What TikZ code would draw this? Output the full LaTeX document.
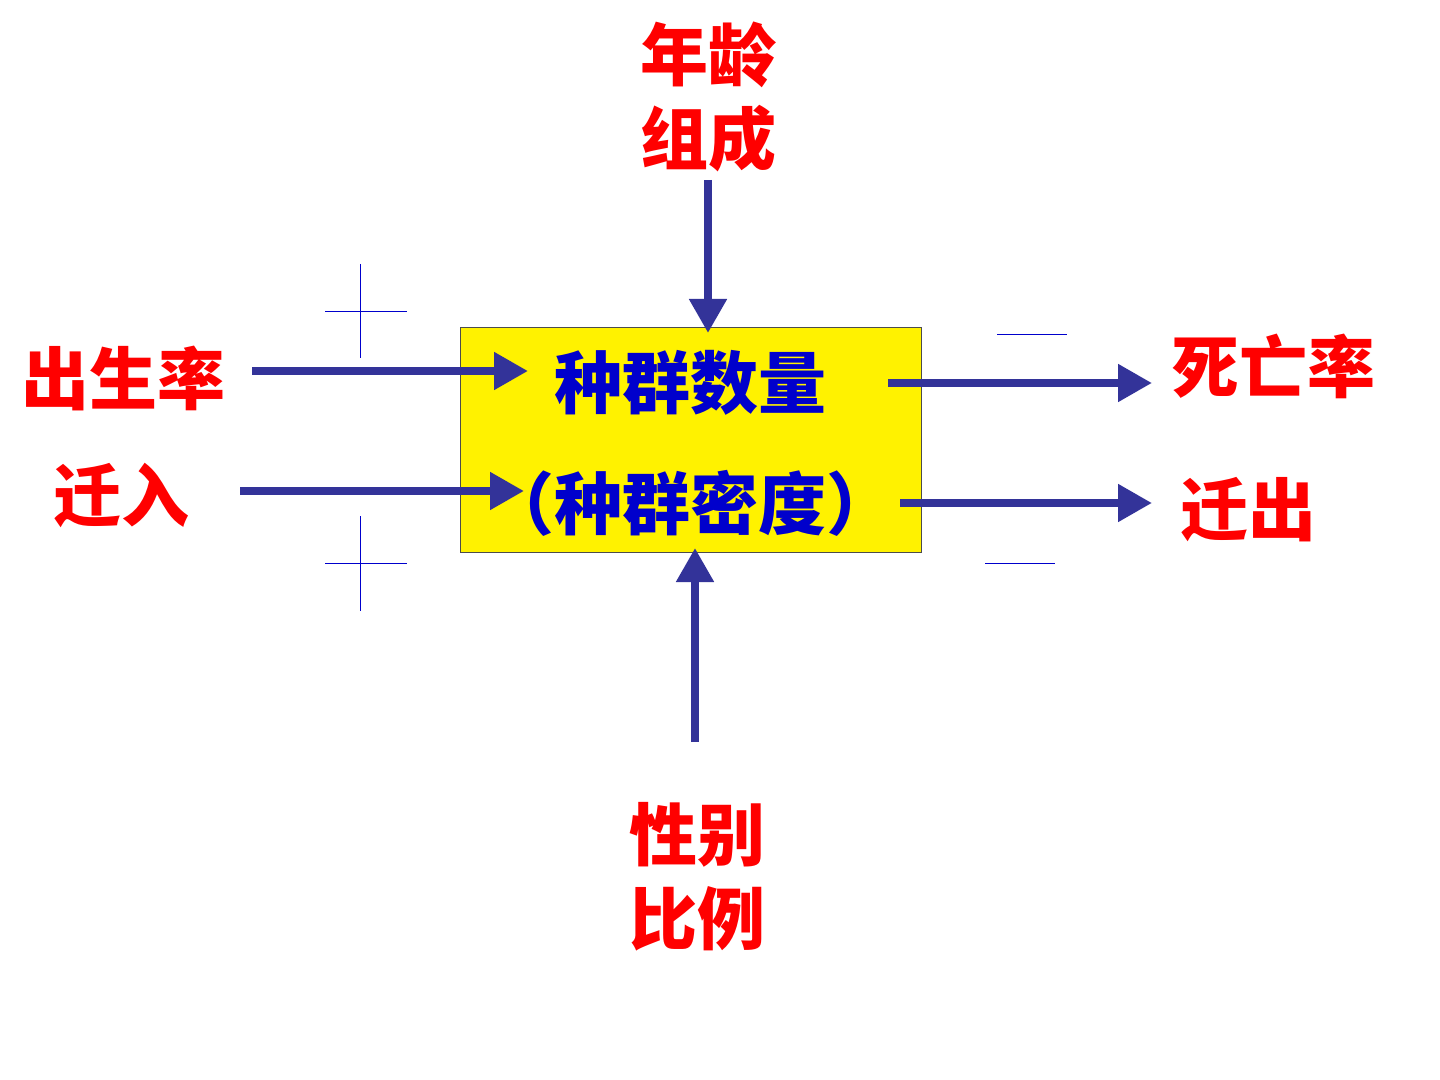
\documentclass[tikz,border=0pt]{standalone}
\usepackage{fontspec}
\setmainfont{Noto Sans CJK SC}
\usetikzlibrary{arrows.meta}
\definecolor{arr}{RGB}{51,51,153}
\definecolor{lbl}{RGB}{255,0,0}
\definecolor{txt}{RGB}{0,0,204}
\begin{document}
\begin{tikzpicture}[x=0.5pt,y=-0.5pt,
  lab/.style={text=lbl,font=\fontsize{34}{42}\selectfont\bfseries,align=center,inner sep=0},
  big/.style={line width=4pt,draw=arr,-{Triangle[length=17pt,width=18pt]}},
  thin/.style={draw=txt,line width=0.5pt}]
\useasboundingbox (0,0) rectangle (1440,1080);
\node[draw=black!70,fill=yellow,minimum width=230.5pt,minimum height=112pt,inner sep=0,line width=0.5pt] (box) at (690.5,440) {};
\node[text=txt,font=\fontsize{34}{40}\selectfont\bfseries,inner sep=0] (t1) at (690,383) {种群数量};
\node[text=txt,font=\fontsize{34}{40}\selectfont\bfseries,inner sep=0] (t2) at (690,503) {（种群密度）};
\node[lab] (age) at (708,97) {年龄\\组成};
\node[lab] (birth) at (123,378) {出生率};
\node[lab] (in) at (122,495) {迁入};
\node[lab] (death) at (1273,366) {死亡率};
\node[lab] (out) at (1248,510) {迁出};
\node[lab] (sex) at (697,877) {性别\\比例};
\coordinate (a1) at (708,180); \coordinate (a2) at (708,333);
\coordinate (b1) at (252,371); \coordinate (b2) at (528,371);
\coordinate (c1) at (240,491); \coordinate (c2) at (524,491);
\coordinate (d1) at (888,383); \coordinate (d2) at (1152,383);
\coordinate (e1) at (900,503); \coordinate (e2) at (1152,503);
\coordinate (f1) at (695,742); \coordinate (f2) at (695,548);
\draw[big] (a1) -- (a2);
\draw[big] (b1) -- (b2);
\draw[big] (c1) -- (c2);
\draw[big] (d1) -- (d2);
\draw[big] (e1) -- (e2);
\draw[big] (f1) -- (f2);
\coordinate (p1l) at (325,312); \coordinate (p1r) at (407,312);
\coordinate (p1t) at (360,264); \coordinate (p1b) at (360,358);
\coordinate (p2l) at (325,563); \coordinate (p2r) at (407,563);
\coordinate (p2t) at (360,516); \coordinate (p2b) at (360,611);
\coordinate (m1l) at (997,335); \coordinate (m1r) at (1067,335);
\coordinate (m2l) at (985,563); \coordinate (m2r) at (1055,563);
\draw[thin] (p1l) -- (p1r); \draw[thin] (p1t) -- (p1b);
\draw[thin] (p2l) -- (p2r); \draw[thin] (p2t) -- (p2b);
\draw[thin] (m1l) -- (m1r); \draw[thin] (m2l) -- (m2r);
\end{tikzpicture}
\end{document}
